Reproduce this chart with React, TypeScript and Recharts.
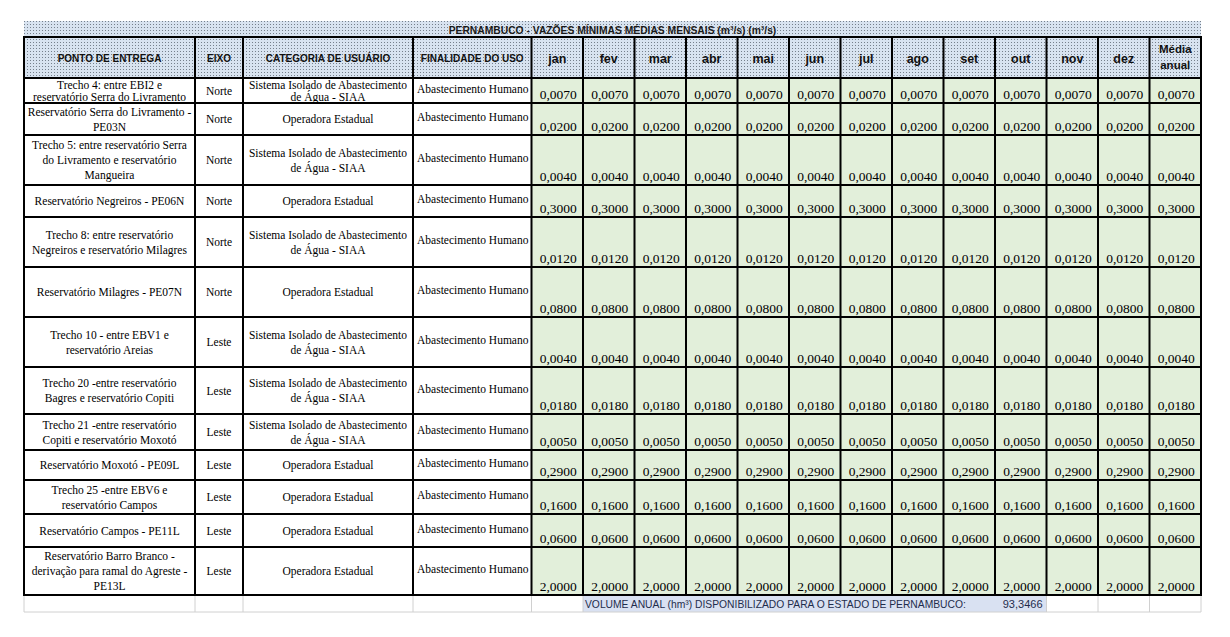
import { Surface, Layer, Rectangle, Text } from 'recharts';

// column headers
const headCols = ['PONTO DE ENTREGA', 'EIXO', 'CATEGORIA DE USUÁRIO', 'FINALIDADE DO USO'];
const months = ['jan', 'fev', 'mar', 'abr', 'mai', 'jun', 'jul', 'ago', 'set', 'out', 'nov', 'dez'];
const title = 'PERNAMBUCO - VAZÕES MÍNIMAS MÉDIAS MENSAIS (m³/s)  (m³/s)';

// row labels (line breaks as in the sheet)
const pontos = [
  ['Trecho 4: entre EBI2 e', 'reservatório Serra do Livramento'],
  ['Reservatório Serra do Livramento -', 'PE03N'],
  ['Trecho 5: entre reservatório Serra', 'do Livramento e reservatório', 'Mangueira'],
  ['Reservatório Negreiros - PE06N'],
  ['Trecho 8: entre  reservatório', 'Negreiros e reservatório Milagres'],
  ['Reservatório Milagres - PE07N'],
  ['Trecho 10 - entre EBV1 e', 'reservatório Areias'],
  ['Trecho 20 -entre reservatório', 'Bagres e reservatório Copiti'],
  ['Trecho 21 -entre reservatório', 'Copiti e reservatório Moxotó'],
  ['Reservatório Moxotó - PE09L'],
  ['Trecho 25 -entre EBV6 e', 'reservatório Campos'],
  ['Reservatório Campos - PE11L'],
  ['Reservatório Barro Branco -', 'derivação para ramal do Agreste -', 'PE13L'],
];
const eixos = ['Norte', 'Norte', 'Norte', 'Norte', 'Norte', 'Norte', 'Leste', 'Leste', 'Leste', 'Leste', 'Leste', 'Leste', 'Leste'];
const SIAA = ['Sistema Isolado de Abastecimento', 'de Água - SIAA'];
const OPER = ['Operadora Estadual'];
const categorias = [SIAA, OPER, SIAA, OPER, SIAA, OPER, SIAA, SIAA, SIAA, OPER, OPER, OPER, OPER];
const finalidade = 'Abastecimento Humano';

// flow in m3/s (same value every month) and annual mean
const vazaoMensal = [0.007, 0.02, 0.004, 0.3, 0.012, 0.08, 0.004, 0.018, 0.005, 0.29, 0.16, 0.06, 2.0];
const mediaAnual = [0.007, 0.02, 0.004, 0.3, 0.012, 0.08, 0.004, 0.018, 0.005, 0.29, 0.16, 0.06, 2.0];
const volumeLabel = 'VOLUME ANUAL (hm³) DISPONIBILIZADO PARA O ESTADO  DE PERNAMBUCO:';
const volumeAnual = '93,3466';

// layout
const colX = [24, 195, 243, 413, 531.5];
for (let i = 1; i <= 13; i++) colX.push(531.5 + i * 51.5);
const rowY = [37, 78, 103, 135, 185, 217, 267, 317, 367, 414, 450, 480, 514, 547, 595];
const footBottom = 612;
const titleTop = 21;

const serif = '"Liberation Serif", "Times New Roman", serif';
const sans = '"Liberation Sans", Arial, sans-serif';
const fmt = (v: number) => v.toFixed(4).replace('.', ',');

function Lines({ lines, cx, top, h, size, dy = 0 }: { lines: string[]; cx: number; top: number; h: number; size: number; dy?: number }) {
  const lh = Math.min(15, (h - 1) / lines.length);
  const start = top + h / 2 - (lh * (lines.length - 1)) / 2 + dy;
  return (
    <>
      {lines.map((l, i) => (
        <Text key={i} x={cx} y={start + i * lh} textAnchor="middle" verticalAnchor="middle" fontSize={size} fontFamily={serif} fill="#000">
          {l}
        </Text>
      ))}
    </>
  );
}

export default function App() {
  const left = colX[0];
  const right = colX[colX.length - 1];
  const top = rowY[0];
  const bottom = rowY[rowY.length - 1];
  const headBottom = rowY[1];

  return (
    <div style={{ position: 'fixed', left: 0, top: 0, width: 1230, height: 637, background: '#fff' }}>
      <Surface width={1230} height={637}>
        <defs>
          <pattern id="dots" width="3" height="3" patternUnits="userSpaceOnUse">
            <rect width="3" height="3" fill="#d8e3f0" />
            <rect width="1" height="1" fill="#76808c" />
          </pattern>
        </defs>

        {/* title band */}
        <Rectangle x={left} y={titleTop} width={right - left} height={top - titleTop} fill="url(#dots)" />
        <Text x={(left + right) / 2} y={(titleTop + top) / 2 + 1} textAnchor="middle" verticalAnchor="middle" fontSize={10.3} fontWeight="bold" fontFamily={sans} fill="#1a1a1a">
          {title}
        </Text>

        {/* header */}
        <Rectangle x={left} y={top} width={right - left} height={headBottom - top} fill="url(#dots)" />
        {headCols.map((h, i) => (
          <Text key={h} x={(colX[i] + colX[i + 1]) / 2} y={(top + headBottom) / 2 + 1} textAnchor="middle" verticalAnchor="middle" fontSize={10} fontWeight="bold" fontFamily={sans} fill="#111">
            {h}
          </Text>
        ))}
        {months.map((m, i) => (
          <Text key={m} x={(colX[i + 4] + colX[i + 5]) / 2} y={(top + headBottom) / 2 + 1} textAnchor="middle" verticalAnchor="middle" fontSize={12.5} fontWeight="bold" fontFamily={sans} fill="#111">
            {m}
          </Text>
        ))}
        <Text x={(colX[16] + colX[17]) / 2} y={(top + headBottom) / 2 - 9} textAnchor="middle" verticalAnchor="middle" fontSize={11.5} fontWeight="bold" fontFamily={sans} fill="#111">
          Média
        </Text>
        <Text x={(colX[16] + colX[17]) / 2} y={(top + headBottom) / 2 + 7} textAnchor="middle" verticalAnchor="middle" fontSize={11.5} fontWeight="bold" fontFamily={sans} fill="#111">
          anual
        </Text>

        {/* body rows */}
        {pontos.map((p, r) => {
          const y0 = rowY[r + 1];
          const y1 = rowY[r + 2];
          const h = y1 - y0;
          const vals = [...months.map(() => vazaoMensal[r]), mediaAnual[r]];
          return (
            <Layer key={r}>
              <Rectangle x={colX[4]} y={y0} width={right - colX[4]} height={h} fill="#e2efda" />
              <Lines lines={p} cx={(colX[0] + colX[1]) / 2} top={y0} h={h} size={11.5} />
              <Lines lines={[eixos[r]]} cx={(colX[1] + colX[2]) / 2} top={y0} h={h} size={11.5} />
              <Lines lines={categorias[r]} cx={(colX[2] + colX[3]) / 2} top={y0} h={h} size={11.5} />
              <Lines lines={[finalidade]} cx={(colX[3] + colX[4]) / 2 + 0.5} top={y0} h={h} size={11.5} dy={-2} />
              {vals.map((v, c) => (
                <Text key={c} x={(colX[c + 4] + colX[c + 5]) / 2 + 1} y={y1 - 4} textAnchor="middle" verticalAnchor="end" fontSize={13.5} fontFamily={serif} fill="#000">
                  {fmt(v)}
                </Text>
              ))}
            </Layer>
          );
        })}

        {/* footer row */}
        <Rectangle x={colX[5]} y={bottom} width={colX[14] - colX[5]} height={footBottom - bottom} fill="#d9e1f2" />
        {colX.map((x, i) =>
          i >= 6 && i <= 13 ? null : <line key={i} x1={x} x2={x} y1={bottom} y2={footBottom} stroke="#d0d0d0" strokeWidth={1} />
        )}
        <line x1={left} x2={right} y1={footBottom} y2={footBottom} stroke="#d0d0d0" strokeWidth={1} />
        <Text x={colX[5] + 2} y={(bottom + footBottom) / 2 + 1} verticalAnchor="middle" fontSize={10.3} fontFamily={sans} fill="#1f2d4d">
          {volumeLabel}
        </Text>
        <Text x={colX[14] - 4} y={(bottom + footBottom) / 2 + 1} textAnchor="end" verticalAnchor="middle" fontSize={11} fontFamily={sans} fill="#1f2d4d">
          {volumeAnual}
        </Text>

        {/* grid */}
        {rowY.map((y, i) => (
          <line key={'h' + i} x1={left - 1} x2={right + 1} y1={y} y2={y} stroke="#000" strokeWidth={2} />
        ))}
        {colX.map((x, i) => (
          <line key={'v' + i} x1={x} x2={x} y1={top} y2={bottom} stroke="#000" strokeWidth={2} />
        ))}
      </Surface>
    </div>
  );
}
